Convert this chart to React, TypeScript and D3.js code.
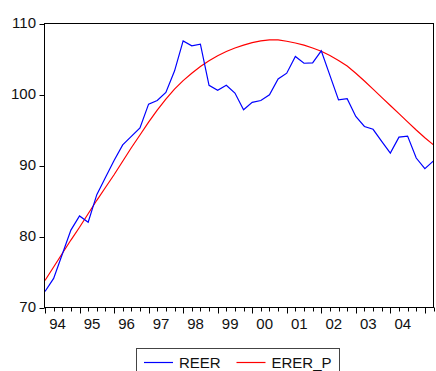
import * as d3 from "d3";

// quarterly, 1994Q1 .. 2005Q2
const yearLabels = ["94", "95", "96", "97", "98", "99", "00", "01", "02", "03", "04"];

const reer = [
  72.25, 74.1, 77.5, 80.9, 82.9, 82.0, 85.9, 88.3, 90.7, 92.9,
  94.1, 95.3, 98.65, 99.15, 100.3, 103.3, 107.55, 106.85, 107.1, 101.3,
  100.6, 101.3, 100.2, 97.85, 98.9, 99.15, 99.95, 102.2, 103.0, 105.35,
  104.4, 104.45, 106.15, 102.7, 99.25, 99.4, 96.9, 95.5, 95.1, 93.4,
  91.75, 94.0, 94.15, 91.05, 89.55, 90.65,
];

const ererP = [
  73.8, 75.7, 77.6, 79.5, 81.3, 83.2, 85.1, 86.9, 88.7, 90.6,
  92.5, 94.3, 96.1, 97.8, 99.35, 100.75, 101.95, 103.0, 103.95, 104.75,
  105.45, 106.05, 106.55, 106.95, 107.3, 107.55, 107.7, 107.7, 107.5, 107.25,
  106.95, 106.55, 106.1, 105.5, 104.8, 104.0, 103.0, 101.9, 100.75, 99.6,
  98.45, 97.3, 96.15, 95.0, 93.9, 92.9,
];

const yTicks = [70, 80, 90, 100, 110];

const W = 436;
const H = 371;
const font = "'Liberation Sans', Arial, sans-serif";

export default function App() {
  const x = d3.scaleLinear().domain([0, reer.length - 1]).range([45, 433.5]);
  const y = d3.scaleLinear().domain([70, 110]).range([307.5, 23.5]);

  const line = d3
    .line<number>()
    .x((_, i) => x(i))
    .y((d) => y(d));

  const left = 44.5;
  const right = 433.5;
  const top = 23.5;
  const bottom = 307.5;

  // one tick per quarter, a longer one at the start of each year
  const quarterTicks = d3.range(0, reer.length);

  return (
    <svg
      width={W}
      height={H}
      style={{ position: "absolute", left: 0, top: 0, background: "#fff" }}
      fontFamily={font}
    >
      <defs>
        <clipPath id="plot">
          <rect x={left} y={top} width={right - left} height={bottom - top} />
        </clipPath>
      </defs>

      {/* y axis ticks and labels */}
      {yTicks.map((t) => (
        <g key={t}>
          <line x1={left - 5} x2={left} y1={Math.round(y(t)) + 0.5} y2={Math.round(y(t)) + 0.5} stroke="#000" />
          <text x={36} y={y(t) + 4.5} fontSize={15} textAnchor="end" fill="#111">
            {t}
          </text>
        </g>
      ))}

      {/* x axis ticks */}
      {quarterTicks.map((i) => {
        const xi = Math.round(x(i)) + 0.5;
        const major = i % 4 === 0;
        return <line key={i} x1={xi} x2={xi} y1={bottom} y2={bottom + (major ? 6 : 4)} stroke="#000" />;
      })}
      {yearLabels.map((lab, k) => (
        <text key={lab} x={x(k * 4) + 12.5} y={329} fontSize={15} textAnchor="middle" fill="#111">
          {lab}
        </text>
      ))}

      {/* series */}
      <g clipPath="url(#plot)">
        <path d={line(ererP) ?? ""} fill="none" stroke="#ff0000" strokeWidth={1.2} />
        <path d={line(reer) ?? ""} fill="none" stroke="#0000ff" strokeWidth={1.2} />
      </g>

      {/* frame */}
      <rect x={left} y={top} width={right - left} height={bottom - top} fill="none" stroke="#000" strokeWidth={1} />

      {/* legend */}
      <rect x={136.5} y={348.5} width={203} height={30} fill="#fff" stroke="#444" />
      <line x1={144} x2={173} y1={362.5} y2={362.5} stroke="#0000ff" strokeWidth={1.2} />
      <text x={179} y={367.5} fontSize={15} fill="#111">
        REER
      </text>
      <line x1={236.5} x2={265.5} y1={362.5} y2={362.5} stroke="#ff0000" strokeWidth={1.2} />
      <text x={271.5} y={367.5} fontSize={15} fill="#111">
        ERER_P
      </text>
    </svg>
  );
}
